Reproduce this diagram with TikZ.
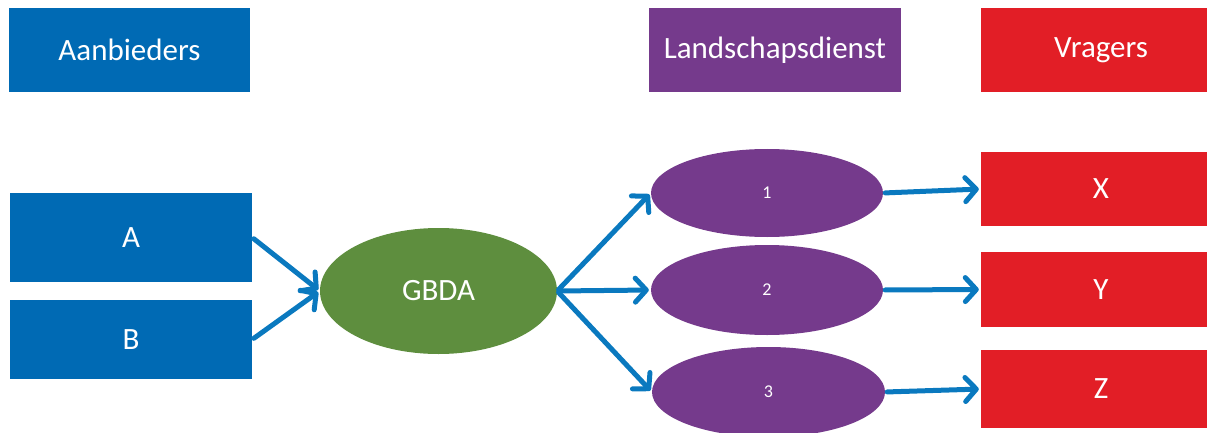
\documentclass[tikz,border=0pt]{standalone}
\usepackage{fontspec}
\setmainfont{Carlito}
\usetikzlibrary{shapes.geometric,arrows.meta}
\definecolor{cblue}{RGB}{0,106,180}
\definecolor{cpurple}{RGB}{117,58,140}
\definecolor{cred}{RGB}{226,30,38}
\definecolor{cgreen}{RGB}{94,142,62}
\definecolor{carrow}{RGB}{10,121,191}
\tikzset{
  box/.style={rectangle, inner sep=0pt, text=white, font=\fontsize{31}{34}\selectfont},
  bluebox/.style={box, fill=cblue},
  purplebox/.style={box, fill=cpurple},
  redbox/.style={box, fill=cred},
  oval/.style={ellipse, inner sep=0pt, text=white, fill=cpurple, font=\fontsize{18}{20}\selectfont},
  conn/.style={draw=carrow, line width=5pt, line cap=round, -{Straight Barb[length=11pt,width=24pt,line cap=round,round]}, shorten >=2pt, shorten <=2pt}
}
\begin{document}
\begin{tikzpicture}[x=1pt,y=-1pt]
\useasboundingbox (0,0) rectangle (1207,433);
\clip (0,0) rectangle (1207,433);
\node[bluebox, minimum width=241pt, minimum height=84pt] (hA) at (129.5,50) {Aanbieders};
\node[purplebox, minimum width=252pt, minimum height=84pt] (hL) at (775,50) {Landschapsdienst};
\node[redbox, minimum width=240pt, minimum height=84pt] (hV) at (1101,50) {Vragers};
\node[bluebox, minimum width=242pt, minimum height=89pt] (A) at (131,237.5) {A};
\node[bluebox, minimum width=242pt, minimum height=79pt] (B) at (131,339.5) {B};
\node[ellipse, inner sep=0pt, fill=cgreen, text=white, font=\fontsize{31}{34}\selectfont, minimum width=237pt, minimum height=126pt] (G) at (438.5,291) {GBDA};
\node[oval, minimum width=232pt, minimum height=88pt] (e1) at (767,193) {1};
\node[oval, minimum width=232pt, minimum height=90pt] (e2) at (767,290) {2};
\node[oval, minimum width=233pt, minimum height=90pt] (e3) at (768.5,392) {3};
\node[redbox, minimum width=240pt, minimum height=74pt] (X) at (1101,189) {X};
\node[redbox, minimum width=240pt, minimum height=75pt] (Y) at (1101,289.5) {Y};
\node[redbox, minimum width=240pt, minimum height=78pt] (Z) at (1101,389) {Z};
\draw[conn] (A.east) -- (G.west);
\draw[conn] (B.east) -- (G.west);
\draw[conn] (G.east) -- (e1.west);
\draw[conn] (G.east) -- (e2.west);
\draw[conn] (G.east) -- (e3.west);
\draw[conn] (e1.east) -- (X.west);
\draw[conn] (e2.east) -- (Y.west);
\draw[conn] (e3.east) -- (Z.west);
\end{tikzpicture}
\end{document}
